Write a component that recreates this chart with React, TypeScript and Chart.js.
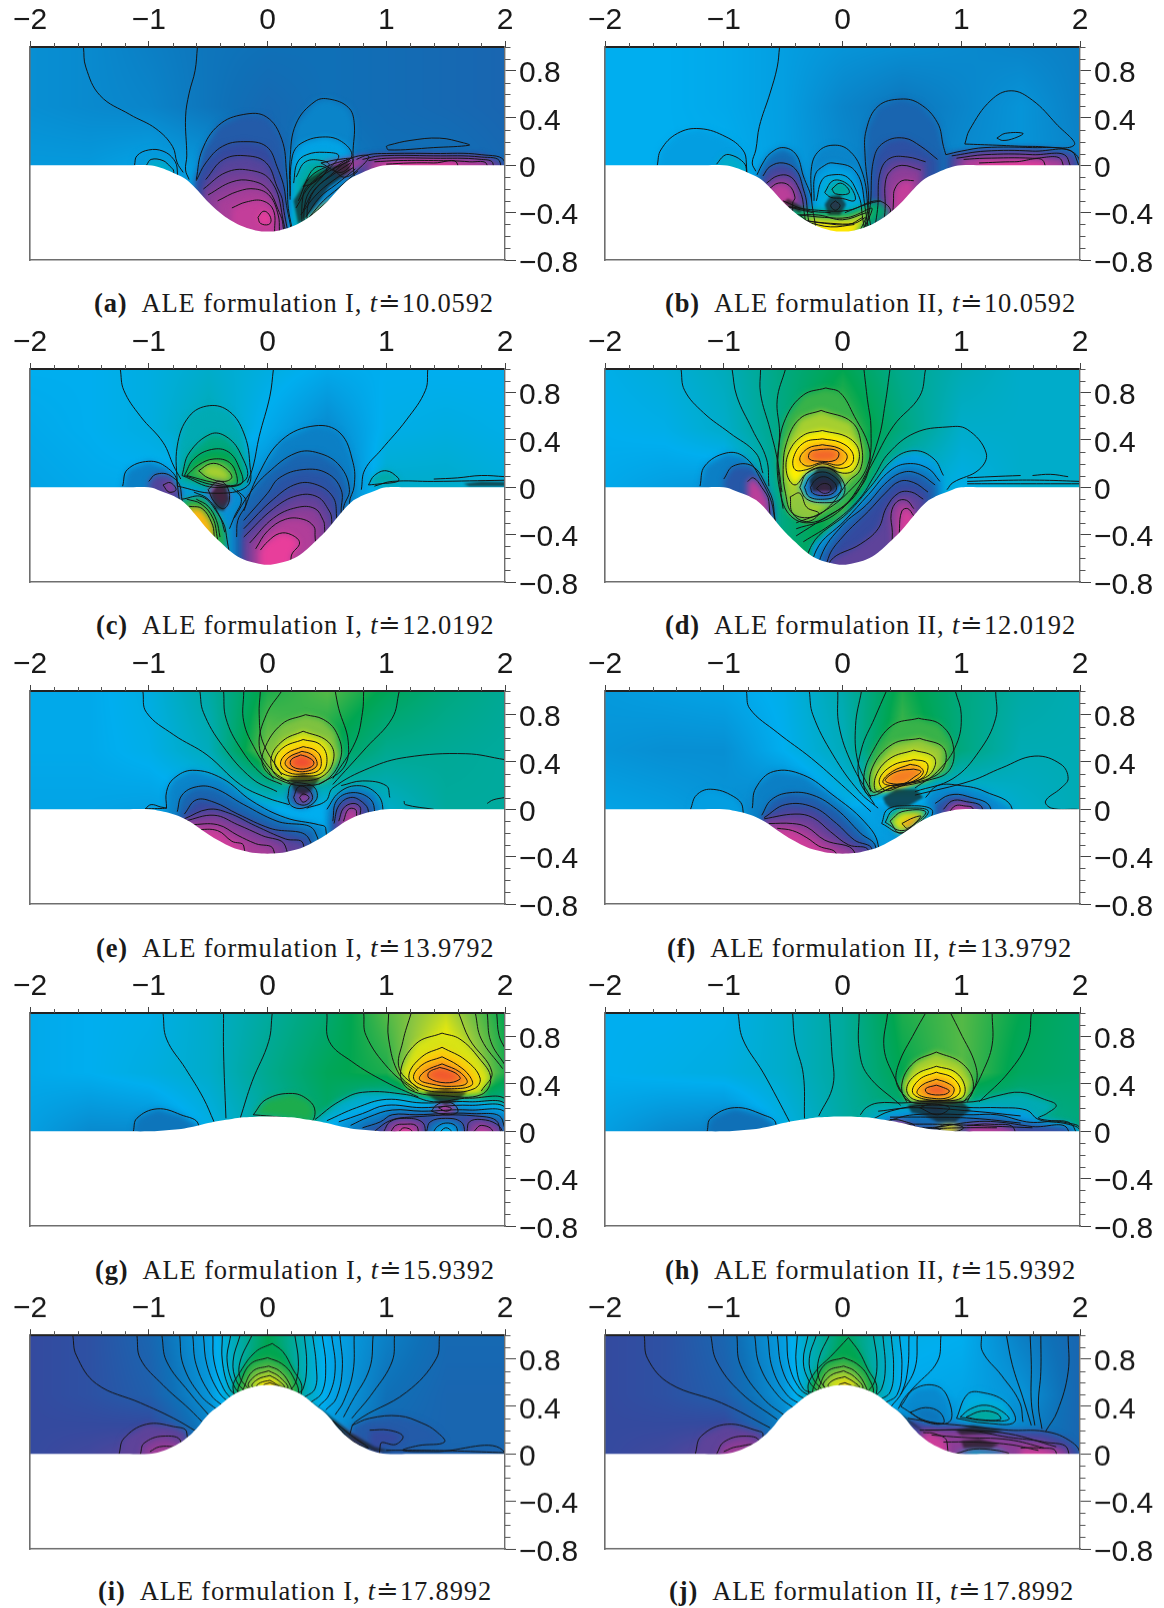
import React, { useEffect, useRef } from "react";
import { Chart, registerables } from "chart.js";
Chart.register(...registerables);

const xMajorTicks = [-2, -1, 0, 1, 2];
const xMinorTicks = [-1.8, -1.6, -1.4, -1.2, -0.8, -0.6, -0.4, -0.2, 0.2, 0.4, 0.6, 0.8, 1.2, 1.4, 1.6, 1.8];
const yMajorTicks = [-0.8, -0.4, 0, 0.4, 0.8];
const yMinorTicks = [-0.7, -0.6, -0.5, -0.3, -0.2, -0.1, 0.1, 0.2, 0.3, 0.5, 0.6, 0.7, 0.9, 1];

const levelStops = [0, 0.12, 0.22, 0.33, 0.45, 0.55, 0.66, 0.76, 0.85, 0.93, 1];
const levelColors = [[232, 62, 155], [123, 63, 152], [52, 74, 159], [15, 112, 183], [0, 174, 239], [0, 170, 165], [0, 166, 81], [141, 198, 63], [255, 242, 0], [247, 148, 29], [239, 65, 54]];

const fieldX = [-2, -1.5, -1, -0.5, 0, 0.5, 1, 1.5, 2];
const fieldY = [1, 0.5, 0];
const terrainX = [-2, -1.2, -1, -0.9, -0.8, -0.7, -0.6, -0.5, -0.4, -0.3, -0.2, -0.1, 0, 0.1, 0.2, 0.3, 0.4, 0.5, 0.6, 0.7, 0.8, 0.9, 1, 1.2, 2];
const terrainA = [0, 0, 0, -0.02, -0.06, -0.11, -0.2, -0.31, -0.4, -0.47, -0.52, -0.55, -0.56, -0.55, -0.52, -0.47, -0.4, -0.31, -0.2, -0.11, -0.06, -0.02, 0, 0, 0];
const terrainC = [0, 0, 0, -0.03, -0.07, -0.13, -0.24, -0.36, -0.46, -0.55, -0.61, -0.64, -0.655, -0.64, -0.61, -0.55, -0.46, -0.36, -0.24, -0.13, -0.07, -0.03, 0, 0, 0];
const terrainE = [0, 0, 0, -0.015, -0.04, -0.08, -0.14, -0.21, -0.27, -0.32, -0.35, -0.37, -0.375, -0.37, -0.35, -0.32, -0.27, -0.21, -0.14, -0.08, -0.04, -0.015, 0, 0, 0];
const terrainG = [0, 0, 0, 0.005, 0.013, 0.025, 0.045, 0.07, 0.09, 0.105, 0.118, 0.124, 0.126, 0.124, 0.118, 0.105, 0.09, 0.07, 0.045, 0.025, 0.013, 0.005, 0, 0, 0];
const terrainI = [0, 0, 0, 0.02, 0.06, 0.12, 0.21, 0.33, 0.41, 0.49, 0.54, 0.57, 0.58, 0.57, 0.54, 0.49, 0.41, 0.33, 0.21, 0.12, 0.06, 0.02, 0, 0, 0];

const fieldA = [[.39,.38,.36,.34,.33,.33,.32,.31,.30],[.39,.38,.37,.34,.31,.33,.32,.31,.30],[.41,.41,.43,.4,.3,.36,.33,.33,.31]];
const fieldB = [[.45,.45,.44,.42,.40,.39,.38,.37,.36],[.45,.45,.44,.42,.37,.34,.37,.4,.36],[.45,.45,.45,.42,.38,.34,.38,.4,.37]];
const fieldC = [[.45,.45,.47,.5,.47,.44,.45,.45,.45],[.44,.45,.47,.53,.44,.38,.46,.47,.46],[.43,.44,.44,.4,.38,.3,.5,.5,.48]];
const fieldD = [[.46,.48,.52,.6,.66,.58,.53,.5,.5],[.45,.46,.5,.6,.72,.6,.5,.5,.5],[.44,.42,.4,.6,.7,.5,.46,.5,.5]];
const fieldE = [[.44,.44,.47,.55,.68,.72,.65,.6,.57],[.44,.44,.46,.52,.75,.66,.58,.57,.56],[.43,.43,.42,.42,.45,.45,.5,.56,.56]];
const fieldF = [[.41,.42,.43,.46,.54,.68,.6,.55,.53],[.4,.39,.39,.45,.52,.72,.6,.53,.53],[.43,.42,.4,.35,.45,.4,.43,.5,.53]];
const fieldG = [[.44,.45,.46,.5,.56,.62,.72,.8,.66],[.44,.45,.47,.5,.58,.65,.68,.9,.68],[.42,.38,.38,.46,.55,.62,.4,.3,.5]];
const fieldH = [[.45,.45,.46,.5,.56,.68,.72,.66,.62],[.45,.46,.47,.5,.56,.66,.72,.64,.62],[.42,.38,.36,.46,.55,.6,.5,.55,.6]];
const fieldI = [[.22,.24,.3,.42,.66,.44,.36,.31,.31],[.22,.24,.28,.4,.66,.44,.33,.3,.3],[.22,.2,.16,.34,.5,.4,.3,.3,.3]];
const fieldJ = [[.22,.24,.3,.42,.64,.46,.45,.36,.3],[.22,.24,.28,.4,.66,.44,.43,.4,.3],[.22,.2,.15,.34,.5,.3,.35,.35,.3]];

const linesA = [[-1.55,1,-1.53,.83,-1.41,.59,-1.16,.43,-.94,.31,-.8,.16,-.76,.02,-.71,-.06],[-.59,1,-.61,.8,-.66,.61,-.69,.41,-.68,.08,-.69,-.04,-.66,-.12],[.3,-.38,.4,-.2,.55,-.08,.7,.02],[.28,-.42,.4,-.26,.55,-.13,.72,-.02],[.24,-.36,.36,-.17,.52,-.05,.7,.04],[.32,-.44,.44,-.27,.58,-.16,.74,-.03],[.35,-.44,.47,-.3,.6,-.19,.76,-.05],[.26,-.3,.35,-.11,.5,-.01,.68,.05]];
const lobesA = [[.41,-1.12,0,-1.1,.08,-1,.13,-.88,.12,-.79,.05,-.76,-.04],[.5,-1.02,0,-.98,.05,-.88,.04,-.82,-.01,-.79,-.05],[.27,-.6,-.12,-.55,.13,-.41,.34,-.2,.43,-.01,.41,.12,.22,.16,-.06,.17,-.29],[.22,-.6,-.13,-.52,.02,-.38,.16,-.2,.2,-.01,.16,.08,-.01,.15,-.26],[.17,-.52,-.12,-.37,.05,-.17,.08,-.01,.02,.08,-.18,.13,-.32],[.13,-.54,-.2,-.35,-.06,-.16,-.04,.02,-.12,.12,-.4],[.1,-.5,-.25,-.3,-.14,-.14,-.13,0,-.2,.1,-.4,.13,-.5],[.07,-.42,-.3,-.25,-.22,-.1,-.2,.02,-.26,.09,-.42,.1,-.55],[.04,-.3,-.36,-.18,-.31,-.04,-.3,.05,-.38,.06,-.56],[.37,.19,-.29,.19,.05,.24,.35,.4,.54,.52,.56,.68,.49,.73,.36,.72,.1],[.43,.19,-.26,.21,.08,.29,.19,.49,.24,.64,.19,.71,.08,.61,-.01,.35,-.3],[.49,.22,-.15,.25,.02,.33,.09,.48,.11,.6,.08,.5,-.05,.32,-.3],[.54,.24,-.1,.32,.03,.46,.04,.52,0,.42,-.1,.3,-.25],[.22,.75,.05,.85,.09,1,.1,1.4,.1,1.8,.09,2,.02],[.16,.8,.05,.95,.08,1.4,.08,1.8,.07,1.96,.02],[.1,.85,.04,1,.06,1.4,.06,1.8,.05,1.9,.01],[.05,.9,.03,1.1,.04,1.4,.04,1.7,.03,1.85,0],[.0,1,.01,1.2,.02,1.4,.02,1.6,.01]];
const loopsA = [[0,-.08,-.44,-.04,-.39,0,-.4,.03,-.46,.01,-.5,-.06,-.49],[.62,.3,-.18,.4,-.02,.5,-.03,.4,-.14],[.1,.45,.02,.6,.05,.72,.05,.62,-.06],[.08,.55,-.03,.7,.06,.85,.08,.8,0,.65,-.1],[.84,.3,-.5,.42,-.38,.55,-.28,.48,-.38,.35,-.5]];
const darkA = [[.22,-.3,.33,-.12,.5,-.02,.68,.03,.7,-.05,.52,-.18,.36,-.4,.26,-.5]];
const closedA = [[1,.16,1.02,.17,1.2,.21,1.45,.23,1.65,.19,1.7,.17,1.4,.15,1.02,.13]];

const linesB = [[-.53,1,-.55,.83,-.61,.61,-.7,.33,-.73,.13,-.76,.02,-.73,-.05],[-.42,-.42,-.2,-.42,0,-.46,.2,-.4],[-.36,-.46,-.15,-.49,.05,-.5,.17,-.44],[-.3,-.48,-.1,-.52,.1,-.5],[-.5,-.3,-.3,-.38,-.1,-.4],[.02,-.4,.2,-.33,.32,-.3],[-.46,-.35,-.25,-.4]];
const lobesB = [[.42,-1.56,0,-1.53,.13,-1.39,.27,-1.2,.31,-.98,.24,-.84,.13,-.81,.02],[.5,-1.06,.01,-1,.08,-.95,.09,-.85,.04,-.81,-.03],[.32,-.72,-.08,-.67,.02,-.61,.1,-.5,.15,-.39,.09,-.33,-.09,-.26,-.3],[.2,-.67,-.09,-.61,-.01,-.5,.02,-.39,-.04,-.33,-.2,-.3,-.34],[.12,-.64,-.15,-.55,-.09,-.45,-.09,-.38,-.17,-.33,-.33],[.05,-.62,-.2,-.54,-.15,-.45,-.17,-.4,-.27,-.42,-.32],[.37,-.26,-.3,-.26,-.01,-.2,.12,-.08,.17,.05,.13,.16,-.04,.21,-.32],[.42,-.24,-.3,-.23,-.08,-.15,0,-.08,.02,.1,-.04,.18,-.28],[.47,-.22,-.3,-.17,-.12,-.08,-.08,.04,-.1,.12,-.22,.16,-.36],[.3,.87,.09,.85,.16,.8,.36,.65,.52,.49,.56,.3,.5,.2,.3,.19,.08,.22,-.26],[.24,.8,.05,.66,.16,.52,.23,.36,.2,.27,.08,.24,-.26],[.17,.7,.03,.55,.07,.4,.06,.32,-.05,.3,-.3],[.1,.66,-.04,.5,0,.4,-.05,.36,-.15,.36,-.33],[.04,.6,-.13,.5,-.13,.44,-.2,.43,-.28],[.25,.87,.09,1,.12,1.2,.15,1.6,.15,1.9,.13,2,.02],[.18,.92,.08,1.2,.12,1.6,.12,1.96,.08],[.12,.96,.06,1.2,.09,1.6,.09,1.9,.05],[.06,1.02,.05,1.2,.06,1.6,.06,1.85,.03],[.0,1.15,.02,1.45,.03,1.7,.02]];
const loopsB = [[.53,-.15,-.23,-.08,-.13,.03,-.15,.1,-.24,.1,-.3,0,-.28,-.1,-.27],[.57,-.09,-.2,-.02,-.15,.05,-.2,.05,-.24,-.06,-.24],[.62,-.45,-.35,-.2,-.38,.05,-.38,.3,-.3,.4,-.4,0,-.7,-.4,-.6],[.78,-.36,-.42,-.15,-.44,.05,-.44,.25,-.37,0,-.7],[.86,-.3,-.47,-.1,-.49,.1,-.49,.2,-.44,0,-.7],[.08,-.06,-.3,-.02,-.34,-.06,-.38,-.1,-.34]];
const darkB = [[-.15,-.33,-.1,-.26,-.02,-.25,.03,-.33,-.02,-.42,-.12,-.42],[-.5,-.32,-.36,-.4,-.33,-.36,-.46,-.28]];
const closedB = [[1.03,.18,1.07,.3,1.25,.55,1.42,.63,1.6,.55,1.8,.35,1.95,.17,1.6,.16,1.3,.17],[1.3,.23,1.37,.27,1.52,.27,1.45,.23,1.35,.21]];

const linesC = [[-1.24,1,-1.21,.82,-1.07,.6,-.88,.38,-.79,.18,-.73,.07],[.05,1,.02,.77,-.07,.43,-.12,.18,-.17,.04],[1.35,1,1.33,.82,1.17,.57,.96,.32,.82,.15,.79,-.02],[.9,.01,1.05,.05,1.4,.05,2,.06],[1.4,.07,1.6,.08,1.8,.1,2,.09],[-.62,-.04,-.5,-.1,-.4,-.25,-.36,-.38],[-.6,-.1,-.5,-.16,-.43,-.28,-.4,-.42],[-.68,-.1,-.56,-.14,-.46,-.26,-.42,-.44],[-.3,.0,-.22,-.1,-.28,-.25,-.32,-.35],[-.26,-.02,-.18,-.12,-.25,-.28,-.26,-.42]];
const lobesC = [[.36,-1.22,.01,-1.18,.15,-1,.22,-.85,.17,-.76,.04],[.18,-1,.05,-.94,.11,-.82,.1,-.73,-.02],[.68,-.72,-.1,-.55,-.08,-.42,-.22,-.35,-.38],[.9,-.66,-.16,-.55,-.18,-.47,-.3,-.45,-.4],[.36,-.2,-.2,-.08,.1,.12,.4,.4,.52,.61,.46,.72,.21,.73,.01,.69,-.13],[.3,-.28,-.26,-.15,-.05,0,.12,.24,.29,.43,.29,.61,.18,.69,-.02,.64,-.18],[.25,-.2,-.28,0,-.05,.1,.08,.3,.15,.5,.12,.62,-.02,.62,-.2],[.2,-.2,-.35,.05,-.1,.25,.03,.42,.02,.55,-.08,.58,-.22],[.15,-.2,-.42,.05,-.18,.25,-.07,.42,-.08,.52,-.2,.54,-.27],[.1,-.15,-.47,.05,-.26,.25,-.17,.4,-.18,.47,-.28,.48,-.33],[.06,-.1,-.52,0,-.37,.15,-.27,.3,-.27,.39,-.33,.4,-.4],[0,-.06,-.53,0,-.46,.1,-.39,.2,-.4,.27,-.47,.2,-.58]];
const loopsC = [[.08,-.88,.02,-.82,.04,-.77,-.02,-.83,-.04],[.53,-.76,.01,-.76,.35,-.66,.6,-.49,.69,-.32,.64,-.2,.46,-.15,.21,-.17,.01,-.45,-.05],[.6,-.72,.1,-.66,.29,-.48,.45,-.35,.43,-.23,.29,-.18,.07,-.45,0],[.66,-.7,.1,-.62,.24,-.47,.32,-.33,.3,-.24,.17,-.22,.03,-.45,.02],[.7,-.68,.1,-.58,.19,-.45,.24,-.32,.21,-.26,.1,-.27,.02,-.45,.04],[.78,-.58,.14,-.48,.2,-.38,.18,-.3,.09,-.36,.05,-.5,.08],[.08,-.5,-.02,-.42,.05,-.35,.02,-.32,-.1,-.37,-.18,-.45,-.12],[.55,.85,.02,.9,.1,1,.14,1.1,.08,1.1,.05,.95,.03]];
const darkC = [[-.48,-.06,-.42,.02,-.35,.01,-.32,-.1,-.37,-.2,-.44,-.18],[1.65,.03,1.8,.05,2,.045,2,.01,1.7,.01]];
const closedC = [];

const linesD = [[-1.36,1,-1.33,.82,-1.17,.63,-.95,.46,-.73,.29,-.67,.12],[-.93,1,-.89,.77,-.76,.49,-.64,.24,-.62,.01],[-.69,1,-.69,.79,-.61,.49,-.55,.24,-.51,-.04],[-.48,1,-.55,.74,-.53,.46,-.55,.15,-.5,-.18],[.18,1,.21,.74,.24,.5,.21,.18,.05,-.04,-.17,-.21,-.39,-.3],[.4,1,.36,.71,.3,.4,.14,.01,-.08,-.24,-.39,-.35],[.7,1,.65,.77,.43,.52,.24,.18,.08,-.1,-.17,-.27,-.39,-.41],[-.33,-.46,-.08,-.3,.14,-.1,.27,.1,.39,.29,.61,.46,.88,.51,1.05,.49,1.21,.29,1.15,.15,.93,.04,.88,-.02],[1.05,.08,1.25,.09,1.5,.1],[1.05,.05,1.4,.06,1.7,.06,2,.05],[1.6,.1,1.75,.11,1.9,.09],[1.05,.03,1.5,.03,2,.03]];
const lobesD = [[.36,-1.2,.01,-1.16,.18,-.98,.29,-.83,.26,-.7,.09,-.58,-.21],[.26,-1,.07,-.92,.18,-.76,.18,-.64,.01,-.58,-.16],[.05,-.8,.05,-.75,.08,-.68,0,-.62,-.12],[.42,.85,.1,.77,.24,.61,.31,.43,.24,.24,.01,.05,-.21,-.26,-.49],[.36,.82,.05,.72,.16,.55,.2,.4,.14,.22,-.06,.02,-.28,-.22,-.53],[.28,.78,.02,.65,.11,.52,.13,.38,.05,.2,-.15,0,-.32,-.18,-.58],[.22,.72,-.04,.6,.04,.48,.05,.36,-.05,.22,-.2,0,-.42,-.12,-.6],[.16,.68,-.1,.58,-.04,.47,-.05,.37,-.17,.3,-.35,.15,-.48,-.1,-.62],[.08,.6,-.18,.54,-.11,.46,-.12,.41,-.22,.42,-.38],[.02,.6,-.24,.55,-.18,.5,-.2,.48,-.35]];
const loopsD = [[.7,-.14,.84,-.33,.78,-.48,.58,-.54,.3,-.53,.05,-.47,-.2,-.3,-.3,-.05,-.2,.15,0,.22,.15,.22,.35,.1,.6,-.02,.8],[.78,-.18,.65,-.36,.58,-.47,.38,-.5,.15,-.48,-.05,-.42,-.22,-.25,-.25,-.1,-.15,.05,.05,.15,.15,.16,.35,.08,.55],[.85,-.17,.48,-.33,.44,-.45,.3,-.47,.12,-.4,.02,-.3,.12,-.15,.17,0,.12,.1,.15,.14,.3,.05,.42],[.88,-.17,.41,-.32,.38,-.41,.26,-.4,.15,-.3,.15,-.17,.2,-.02,.16,.08,.2,.08,.3,-.02,.38],[.92,-.17,.36,-.29,.33,-.36,.24,-.3,.18,-.17,.21,-.02,.19,.04,.26,-.03,.33],[.97,-.19,.32,-.27,.3,-.28,.24,-.18,.22,-.06,.23,-.03,.29,-.08,.32],[.45,-.36,0,-.3,.12,-.17,.17,-.05,.12,.02,0,-.02,-.1,-.15,-.13,-.3,-.1],[.3,-.32,0,-.27,.09,-.17,.13,-.07,.09,-.01,0,-.05,-.07,-.15,-.1,-.28,-.08],[.2,-.27,0,-.23,.06,-.16,.09,-.09,.06,-.05,0,-.08,-.05,-.16,-.07,-.25,-.05],[.1,-.22,-.01,-.17,.03,-.11,.02,-.1,-.03,-.16,-.05],[.76,-.44,-.08,-.42,-.22,-.3,-.29,-.2,-.22,-.3,-.17,-.36,-.05]];
const darkD = [[-.2,.18,-.07,.17,0,.05,-.08,-.03,-.25,-.03,-.28,.06]];
const closedD = [];

const linesE = [[-1.05,1,-1.02,.82,-.79,.63,-.51,.46,-.23,.21,-.01,.1,.18,.04],[-.57,1,-.54,.82,-.38,.54,-.13,.26,.08,.15],[-.37,1,-.35,.77,-.23,.52,-.04,.29,.12,.21],[-.2,1,-.2,.74,-.1,.5,.05,.26],[-.06,1,-.07,.8,-.04,.57,.12,.29],[.12,1,-.01,.8,-.07,.54,.02,.35,.21,.21],[.57,1,.6,.85,.68,.57,.64,.35,.43,.21],[.81,1,.8,.82,.74,.57,.55,.26],[1.11,1,1.05,.77,.83,.52,.55,.21],[2,.42,1.67,.47,1.17,.44,.86,.35,.55,.18,.49,.07,.33,.01],[1.03,.1,1,.2,.8,.24,.62,.2],[1.15,.07,1.16,.04,1.4,0],[1.85,.05,1.9,.08,2,.1]];
const lobesE = [[.36,.5,0,.6,.14,.75,.2,.9,.15,.97,.02],[.27,.55,-.1,.58,.07,.7,.14,.85,.1,.9,0],[.2,.56,-.12,.6,.03,.7,.1,.8,.06,.85,-.02],[.12,.6,-.1,.64,.01,.72,.05,.78,.02,.78,-.05],[.05,.64,-.1,.68,0,.74,0,.75,-.05],[.37,-.85,.01,-.85,.15,-.79,.26,-.63,.33,-.38,.26,-.13,.07,.15,-.07,.43,-.13,.49,-.16],[.3,-.76,-.02,-.72,.12,-.6,.19,-.45,.18,-.2,.04,.08,-.1,.4,-.19],[.22,-.7,-.04,-.6,.08,-.45,.06,-.25,-.04,.02,-.16,.35,-.25],[.16,-.7,-.08,-.5,0,-.33,-.03,-.1,-.14,.15,-.25,.3,-.29],[.11,-.7,-.1,-.45,-.05,-.25,-.13,-.05,-.22,.15,-.31],[.07,-.65,-.13,-.42,-.13,-.25,-.22,-.1,-.29,.05,-.34],[.03,-.6,-.17,-.42,-.18,-.3,-.27,-.2,-.31]];
const loopsE = [[.75,.32,.8,.12,.72,-.03,.5,-.03,.35,.1,.25,.3,.2,.5,.25,.62,.45,.58,.65,.47,.76],[.82,.3,.66,.13,.58,.03,.43,.08,.28,.28,.24,.48,.29,.56,.45,.5,.58],[.87,.3,.59,.13,.52,.06,.4,.13,.3,.3,.28,.46,.31,.5,.44,.44,.55],[.9,.3,.53,.16,.47,.11,.38,.18,.31,.3,.3,.43,.33,.45,.43,.4,.5],[.94,.29,.49,.18,.44,.15,.38,.22,.33,.32,.32,.41,.36,.41,.42,.36,.47],[.99,.28,.46,.2,.42,.2,.37,.28,.34,.37,.36,.39,.4,.34,.44],[.3,.17,.1,.2,.21,.3,.22,.4,.18,.41,.08,.3,.01,.2,.03],[.15,.22,.1,.26,.19,.33,.18,.38,.1,.33,.04,.25,.05],[.06,.27,.1,.3,.13,.35,.1,.3,.06]];
const darkE = [[.18,.26,.3,.3,.44,.26,.36,.15,.3,.12,.23,.15]];
const closedE = [[-1.03,.005,-.98,.04,-.9,.02,-.85,.01]];

const linesF = [[-.81,1,-.78,.85,-.55,.65,-.26,.43,-.01,.21,.24,-.02],[-.28,1,-.25,.8,-.08,.46,.14,.15,.3,.01],[-.04,1,-.03,.71,.08,.38,.24,.1],[.16,1,.11,.71,.13,.4,.24,.15],[.37,1,.27,.77,.16,.51,.14,.26,.27,.04],[.95,1,1,.8,.96,.55,.8,.32,.61,.18],[1.29,1,1.29,.77,1.15,.49,.93,.26,.61,.15],[.61,.12,1.08,.24,1.34,.35,1.62,.45,1.84,.38,1.9,.26,1.84,.18,1.71,.07,1.76,.01,1.98,0]];
const lobesF = [[.42,-1.28,0,-1.23,.12,-1.11,.17,-.92,.11,-.84,.01],[.36,-.76,.01,-.73,.18,-.58,.32,-.33,.29,-.08,.12,.18,-.1,.3,-.3],[.28,-.68,-.05,-.6,.08,-.45,.14,-.25,.12,-.05,0,.15,-.2,.28,-.32],[.2,-.66,-.07,-.48,.04,-.25,.02,-.05,-.12,.1,-.26,.25,-.34],[.14,-.66,-.08,-.4,-.04,-.25,-.07,-.1,-.19,.05,-.3,.22,-.35],[.08,-.62,-.12,-.42,-.12,-.3,-.15,-.15,-.26,.1,-.36],[.03,-.55,-.16,-.42,-.18,-.3,-.24,-.2,-.31,-.05,-.38],[.38,.7,.1,.8,.2,1,.2,1.2,.15,1.43,0],[.25,.78,.05,.9,.12,1.05,.11,1.25,0],[.15,.85,0,.92,.07,1.02,.07,1.18,0],[.03,.9,-.02,.95,.03,1.02,.03,1.1,0]];
const loopsF = [[.7,.64,.77,.42,.71,.26,.5,.18,.28,.22,.12,.42,.18,.7,.24,.9,.33,.93,.55,.82,.72],[.77,.65,.6,.42,.55,.25,.35,.25,.15,.4,.2,.7,.25,.85,.35,.85,.52],[.83,.6,.5,.4,.43,.28,.28,.29,.15,.45,.2,.7,.27,.78,.37,.76,.45],[.87,.6,.42,.42,.37,.31,.25,.36,.16,.5,.2,.68,.27,.72,.35,.7,.4],[.92,.57,.38,.42,.32,.34,.23,.44,.2,.6,.24,.68,.31,.65,.36],[.95,.6,.34,.46,.32,.36,.25,.4,.22,.52,.22,.6,.27,.66,.32],[.45,.33,-.12,.38,0,.55,.03,.75,0,.72,-.1,.5,-.2],[.6,.36,-.11,.42,-.01,.55,.01,.72,-.01,.66,-.1,.5,-.18],[.82,.4,-.1,.5,-.02,.7,-.02,.6,-.13,.48,-.2],[.94,.5,-.12,.6,-.07,.66,-.06,.55,-.16]];
const darkF = [[.34,.1,.45,.17,.62,.17,.68,.1,.56,.03,.4,.01,.36,.05]];
const closedF = [];

const linesG = [[-.88,1,-.85,.78,-.69,.53,-.54,.28,-.45,.08],[-.37,1,-.37,.67,-.35,.11],[.04,1,.01,.76,-.13,.42,-.23,.11],[.5,1,.52,.76,.71,.59,.99,.42,1.27,.29],[.81,1,.83,.81,1.02,.53,1.24,.34],[1.02,1,1.02,.78,1.11,.48,1.27,.34],[1.21,1,1.14,.76,1.11,.53,1.27,.36],[1.61,1,1.7,.78,1.89,.5,1.8,.34],[1.75,1,1.8,.78,1.98,.53],[1.85,1,1.88,.76,2,.56],[1.93,1,1.95,.81,2,.7]];
const lobesG = [[.34,-1.13,0,-1.1,.11,-.93,.19,-.73,.14,-.58,.05],[.5,.4,.1,.6,.25,.8,.33,1.17,.31,1.4,.25,1.7,.28,2.02,.24],[.45,.5,.09,.75,.2,1,.27,1.3,.24,1.7,.25,2.02,.2],[.4,.6,.08,.8,.15,1,.22,1.3,.2,1.7,.22,2.02,.17],[.35,.7,.05,.85,.12,1.05,.18,1.3,.17,1.7,.18,2.02,.13],[.27,.8,.03,.95,.08,1.05,.14,1.25,.14,1.72,.15,1.98,.09],[.2,.9,0,1.03,.09,1.2,.12,1.75,.13,1.95,.05],[.12,.98,0,1.03,.08,1.15,.11,1.3,.08,1.33,-.02],[.06,1.04,0,1.08,.05,1.15,.06,1.25,.05,1.27,-.02],[0,1.1,-.01,1.15,.03,1.22,-.01],[.33,1.34,0,1.37,.08,1.5,.11,1.63,.08,1.66,-.01],[.42,1.4,0,1.43,.04,1.5,.07,1.58,.05,1.6,-.01],[.47,1.44,-.02,1.5,.03,1.55,-.01],[.12,1.68,0,1.7,.08,1.8,.1,1.93,.06,1.98,-.02],[.05,1.73,-.01,1.8,.05,1.9,-.01]];
const loopsG = [[.82,1.47,.83,1.25,.74,1.12,.5,1.2,.35,1.5,.3,1.8,.31,1.88,.45,1.78,.62,1.62,.78],[.88,1.47,.71,1.3,.63,1.19,.47,1.27,.37,1.5,.33,1.74,.36,1.79,.45,1.67,.6],[.91,1.47,.63,1.3,.56,1.23,.45,1.33,.38,1.55,.36,1.72,.39,1.7,.47,1.6,.56],[.94,1.47,.57,1.33,.51,1.28,.44,1.38,.4,1.55,.38,1.68,.41,1.62,.5],[.98,1.45,.54,1.36,.5,1.36,.45,1.5,.41,1.62,.44,1.6,.48,1.52,.52],[.1,1.38,.17,1.42,.22,1.5,.25,1.58,.22,1.6,.16,1.5,.14],[.02,1.44,.2,1.5,.21,1.55,.19,1.5,.17],[.68,-.12,.14,-.01,.27,.21,.32,.35,.26,.4,.17,.36,.08,.1,.12]];
const darkG = [[1.32,.33,1.5,.36,1.68,.33,1.6,.26,1.5,.22,1.42,.26]];
const closedG = [];

const linesH = [[-.88,1,-.84,.78,-.67,.5,-.55,.28,-.44,.07],[-.42,1,-.4,.76,-.33,.48,-.32,.11],[-.11,1,-.09,.67,-.08,.39,-.2,.13],[.14,1,.14,.7,.21,.48,.49,.22],[.38,1,.35,.7,.44,.45,.54,.25],[.7,1,.61,.84,.47,.56,.46,.39,.57,.25],[.91,1,.99,.84,1.12,.56,1.12,.39,1.02,.25],[1.26,1,1.26,.73,1.18,.5,1.05,.25],[1.59,1,1.56,.76,1.4,.5,1.15,.25],[.3,.17,.6,.2,1.1,.17,1.5,.13],[.4,.12,.7,.12,1.1,.11,1.5,.07],[.5,.06,.8,.06,1.1,.05,1.6,.03],[.7,.02,1,.03,1.3,.03]];
const lobesH = [[.33,-1.14,0,-1.11,.11,-.91,.2,-.67,.14,-.56,.06],[.53,.15,.14,.2,.2,.3,.24,.5,.24,.7,.25,1.1,.25,1.3,.3,1.5,.33,1.7,.27,1.8,.22,1.72,.15,1.65,.11,1.9,.07,2,.02],[.42,.25,.1,.4,.17,.7,.22,1.1,.2,1.3,.2,1.55,.18,1.65,.1,1.9,.06,2,0],[.32,.35,.08,.6,.14,1.1,.14,1.3,.14,1.55,.08,1.95,.03],[.2,.45,.07,.7,.03,1.1,.08,1.3,.08,1.6,.04,1.9,.01],[.08,.4,.1,.5,.09,.62,.02],[.06,1.05,.05,1.25,.06,1.45,.01]];
const loopsH = [[.78,.79,.67,.6,.58,.5,.4,.55,.26,.8,.24,1.05,.27,1.1,.42,1,.58],[.85,.79,.55,.62,.48,.54,.36,.6,.27,.8,.26,1,.28,1.03,.38,.95,.5],[.89,.79,.5,.65,.44,.59,.33,.7,.27,.9,.27,.99,.34,.93,.45],[.93,.79,.44,.67,.39,.63,.32,.75,.28,.9,.29,.94,.36,.88,.41],[.98,.79,.39,.7,.36,.72,.32,.85,.31,.9,.34,.85,.37],[.85,.78,.03,.9,.06,1.02,.03,.9,-.01],[.25,.65,.2,.75,.23,.9,.2,.8,.14]];
const darkH = [[.55,.22,.7,.27,1,.26,1.08,.18,.95,.08,.8,.08,.7,.13,.58,.16]];
const closedH = [];

const linesI = [[-1.64,1,-1.61,.83,-1.44,.59,-1.07,.43,-.79,.3,-.6,.19],[-1.1,1,-1.07,.8,-.88,.58,-.66,.38,-.52,.24],[-.89,1,-.85,.78,-.66,.52,-.48,.31],[-.74,1,-.71,.75,-.57,.5,-.41,.36],[-.63,1,-.6,.75,-.48,.5,-.37,.4],[-.54,1,-.51,.75,-.41,.52,-.32,.43],[-.46,1,-.45,.78,-.37,.55,-.29,.45],[-.38,1,-.38,.78,-.32,.55,-.24,.48],[-.31,1,-.34,.78,-.27,.55,-.21,.51],[-.23,1,-.29,.78,-.26,.61,-.18,.52],[-.13,1,-.23,.78,-.23,.64,-.15,.54],[.23,1,.26,.78,.24,.61,.18,.52],[.31,1,.33,.75,.3,.55,.24,.5],[.38,1,.41,.75,.4,.55,.3,.47],[.46,1,.49,.75,.46,.52,.36,.43],[.54,1,.57,.72,.52,.5,.43,.4],[.61,1,.63,.72,.58,.47,.49,.37],[.73,1,.72,.69,.64,.44,.57,.33],[.89,1,.86,.72,.71,.44,.64,.31],[1.07,1,1.05,.78,.89,.52,.71,.3],[1.45,1,1.42,.8,1.17,.52,.74,.27,.69,.16],[1,.03,1.3,.03,1.6,.025,2,.01]];
const lobesI = [[.16,-1.25,0,-1.21,.13,-1.02,.25,-.79,.23,-.68,.18],[.11,-1.07,0,-1.04,.09,-.88,.15,-.73,.1],[.07,-.99,.02,-.91,.06,-.79,.06,-.7,.04],[.27,.71,.24,.86,.3,1.11,.32,1.3,.26,1.42,.19,1.49,.1,1.27,.07,1.14,.03,1.4,.02,2,.01],[.22,.86,.2,1.02,.2,1.14,.15,1.08,.08,.95,.08]];
const loopsI = [[.66,.04,.93,-.1,.86,-.23,.69,-.29,.55,-.2,.4,.2,.4,.29,.55,.21,.72,.13,.86],[.7,0,.81,-.14,.76,-.22,.62,-.24,.5,0,.4,.25,.5,.21,.66,.12,.76],[.74,.01,.74,-.12,.7,-.19,.58,-.2,.5,0,.45,.2,.5,.18,.6,.1,.7],[.77,.01,.7,-.1,.66,-.16,.57,0,.5,.17,.55,.1,.65],[.8,.02,.66,-.08,.63,-.13,.57,0,.52,.14,.56,.09,.62],[.85,.02,.62,-.06,.6,-.09,.57,.02,.54,.1,.56,.07,.59],[.9,.02,.6,-.03,.58,.03,.55,.08,.57],[.08,.55,.28,.7,.16,.85,.05,.7,.12]];
const darkI = [[.08,.59,.3,.48,.5,.34,.7,.18,.9,.06,1.05,.02,.9,.02,.7,.12,.5,.29,.3,.44,.08,.56]];
const closedI = [];

const linesJ = [[-1.67,1,-1.64,.8,-1.45,.59,-1.02,.43,-.61,.22],[-1.11,1,-1.06,.78,-.86,.52,-.55,.29],[-.89,1,-.86,.75,-.67,.47,-.47,.31],[-.74,1,-.7,.75,-.55,.5,-.39,.37],[-.63,1,-.59,.72,-.47,.5,-.34,.41],[-.55,1,-.51,.72,-.4,.52,-.29,.45],[-.47,1,-.45,.75,-.36,.55,-.26,.48],[-.38,1,-.39,.75,-.33,.55,-.23,.51],[-.29,1,-.33,.78,-.28,.61,-.2,.52],[-.22,1,-.28,.8,-.25,.64,-.17,.54],[-.11,1,-.2,.8,-.2,.64,-.14,.55],[.26,1,.29,.78,.27,.61,.21,.52],[.34,1,.36,.72,.33,.55,.27,.48],[.41,1,.43,.72,.4,.52,.3,.45],[.48,1,.5,.72,.46,.5,.36,.43],[.56,1,.55,.72,.5,.52,.41,.4],[.63,1,.61,.72,.49,.5],[.83,1,.8,.78,.61,.57,.52,.47,.47,.38],[1.17,1,1.18,.86,1.34,.66,1.49,.44,1.52,.27],[1.38,1,1.43,.75,1.52,.47,1.59,.24],[1.58,1,1.59,.75,1.59,.44,1.62,.24],[1.67,1,1.67,.69,1.65,.41,1.68,.21],[1.9,1,1.9,.69,1.81,.36,1.71,.19],[.7,.2,1,.2,1.4,.17,1.8,.06],[.75,.16,1,.14,1.4,.12,1.7,.05],[.85,.1,1.1,.1,1.4,.08,1.65,.03]];
const lobesJ = [[.16,-1.24,0,-1.19,.15,-.97,.25,-.7,.19,-.67,.17],[.11,-1.06,0,-1,.1,-.83,.15,-.7,.1],[.07,-1,.02,-.89,.06,-.73,.05],[.2,.55,.3,.8,.26,1,.24,1.4,.2,1.7,.19,1.9,.12,2,0],[.1,.65,.2,.8,.2,1.05,.2,1.4,.14,1.7,.1,1.9,.03],[.03,1.5,.05,1.65,.05,1.8,.01],[.03,.68,.18,.78,.17,.88,.1]];
const loopsJ = [[.66,.05,.98,-.1,.82,-.23,.69,-.29,.55,-.2,.4,.2,.4,.29,.55,.21,.72,.14,.86],[.7,.01,.81,-.14,.76,-.22,.62,-.24,.5,0,.4,.25,.5,.21,.66,.12,.76],[.74,.01,.74,-.12,.7,-.19,.58,-.2,.5,0,.45,.2,.5,.18,.6,.1,.7],[.77,.01,.7,-.1,.66,-.16,.57,0,.5,.17,.55,.1,.65],[.82,.02,.65,-.08,.62,-.12,.57,0,.52,.14,.56,.09,.61],[.9,.02,.6,-.03,.58,.03,.55,.08,.57],[.38,.49,.4,.61,.55,.8,.57,.9,.44,.9,.27,.7,.28],[.34,.57,.35,.7,.39,.82,.35,.85,.26,.7,.27],[.47,.96,.3,1.05,.5,1.16,.52,1.37,.44,1.45,.27,1.2,.26],[.52,.99,.31,1.08,.38,1.21,.41,1.34,.36,1.4,.29,1.2,.28],[.57,1.04,.31,1.17,.36,1.3,.34,1.33,.29,1.15,.29],[.5,.95,0,1.1,.04,1.3,.03,1.4,0,1.1,-.02]];
const darkJ = [[.1,.58,.3,.47,.5,.33,.7,.18,.66,.2,.5,.3,.3,.45,.1,.56],[.95,.2,1.1,.24,1.35,.2,1.25,.17,1,.16],[1,.11,1.15,.13,1.32,.08,1.25,.05,1.02,.05]];
const closedJ = [];

const panelLetters = ["a", "b", "c", "d", "e", "f", "g", "h", "i", "j"];
const panelTimes = ["10.0592", "10.0592", "12.0192", "12.0192", "13.9792", "13.9792", "15.9392", "15.9392", "17.8992", "17.8992"];
const panelForms = ["I", "II", "I", "II", "I", "II", "I", "II", "I", "II"];
const panelTerrains = [terrainA, terrainA, terrainC, terrainC, terrainE, terrainE, terrainG, terrainG, terrainI, terrainI];
const panelFields = [fieldA, fieldB, fieldC, fieldD, fieldE, fieldF, fieldG, fieldH, fieldI, fieldJ];
const panelLines = [linesA, linesB, linesC, linesD, linesE, linesF, linesG, linesH, linesI, linesJ];
const panelLobes = [lobesA, lobesB, lobesC, lobesD, lobesE, lobesF, lobesG, lobesH, lobesI, lobesJ];
const panelLoops = [loopsA, loopsB, loopsC, loopsD, loopsE, loopsF, loopsG, loopsH, loopsI, loopsJ];
const panelDark = [darkA, darkB, darkC, darkD, darkE, darkF, darkG, darkH, darkI, darkJ];
const panelClosed = [closedA, closedB, closedC, closedD, closedE, closedF, closedG, closedH, closedI, closedJ];

// page layout, in pixels
const rowTops = [46.7, 368.7, 690.7, 1012.5, 1335];
const plotHeight = 213.8;
const colLeft = [0, 582];
const colPlotLeft = [30, 23];
const colRightWidth = [77, 84];
const capCenters = [303, 625, 948, 1270, 1591];
const capLefts = [94, 665, 96, 665, 96, 667, 95, 665, 98, 669];

const hideBelow = -0.79;
const pairs = (a: number[], from = 0) => {
  const out: { x: number; y: number }[] = [];
  for (let i = from; i + 1 < a.length; i += 2) out.push({ x: a[i], y: a[i + 1] });
  return out;
};
const lobePts = (c: number[]) => {
  const p = pairs(c, 1);
  return [...p, { x: p[p.length - 1].x, y: hideBelow }, { x: p[0].x, y: hideBelow }];
};
const loopPts = (p: { x: number; y: number }[]) => [...p, p[0]];

function levelRGB(z: number) {
  let i = 0;
  while (i < levelStops.length - 2 && z > levelStops[i + 1]) i++;
  const t = Math.max(0, Math.min(1, (z - levelStops[i]) / (levelStops[i + 1] - levelStops[i])));
  return levelColors[i].map((c, k) => c + (levelColors[i + 1][k] - c) * t);
}
const css = (z: number) => {
  const c = levelRGB(z);
  return `rgb(${c[0] | 0},${c[1] | 0},${c[2] | 0})`;
};

const fieldPlugin = {
  id: "contourField",
  beforeDatasetsDraw(chart: any, _a: any, o: any) {
    const { ctx, chartArea: A, scales } = chart;
    const w = Math.round(A.right - A.left), h = Math.round(A.bottom - A.top);
    const img = ctx.createImageData(w, h);
    for (let py = 0; py < h; py++) {
      const vy = scales.y.getValueForPixel(A.top + py);
      const fy = vy >= 0.5 ? (1 - vy) / 0.5 : Math.min(1, (0.5 - vy) / 0.5);
      const r = vy >= 0.5 ? 0 : 1;
      for (let px = 0; px < w; px++) {
        const vx = scales.x.getValueForPixel(A.left + px);
        const cf = Math.max(0, Math.min(7.9999, (vx - fieldX[0]) / 0.5));
        const c = Math.floor(cf), t = cf - c;
        const a = o.field[r][c] * (1 - t) + o.field[r][c + 1] * t;
        const b = o.field[r + 1][c] * (1 - t) + o.field[r + 1][c + 1] * t;
        const rgb = levelRGB(a * (1 - fy) + b * fy);
        const k = (py * w + px) * 4;
        img.data[k] = rgb[0]; img.data[k + 1] = rgb[1]; img.data[k + 2] = rgb[2]; img.data[k + 3] = 255;
      }
    }
    ctx.putImageData(img, Math.round(A.left), Math.round(A.top));
    ctx.save();
    ctx.beginPath();
    ctx.rect(A.left, A.top, A.right - A.left, A.bottom - A.top);
    ctx.clip();
    const poly = (pts: { x: number; y: number }[]) => {
      ctx.beginPath();
      pts.forEach((p, i) => {
        const X = scales.x.getPixelForValue(p.x), Y = scales.y.getPixelForValue(p.y);
        if (i) ctx.lineTo(X, Y); else ctx.moveTo(X, Y);
      });
      ctx.closePath();
    };
    ctx.filter = "blur(3.4px)";
    o.lobes.forEach((c: number[]) => { ctx.fillStyle = css(c[0]); poly(lobePts(c)); ctx.fill(); });
    o.loops.forEach((c: number[]) => { ctx.fillStyle = css(c[0]); poly(pairs(c, 1)); ctx.fill(); });
    ctx.filter = "blur(1.2px)";
    ctx.fillStyle = "rgba(22,24,18,0.66)";
    o.dark.forEach((c: number[]) => { poly(pairs(c)); ctx.fill(); });
    ctx.restore();
  },
  afterDraw(chart: any) {
    const { ctx, chartArea: A, scales } = chart;
    ctx.save();
    ctx.strokeStyle = "#555";
    ctx.lineWidth = 1;
    xMinorTicks.forEach((v) => {
      const X = Math.round(scales.x.getPixelForValue(v)) + 0.5;
      ctx.beginPath(); ctx.moveTo(X, A.top); ctx.lineTo(X, A.top - 4); ctx.stroke();
    });
    yMinorTicks.forEach((v) => {
      const Y = Math.round(scales.y.getPixelForValue(v)) + 0.5;
      ctx.beginPath(); ctx.moveTo(A.right, Y); ctx.lineTo(A.right + 5.5, Y); ctx.stroke();
    });
    ctx.restore();
  },
};

const labelFont = { family: "'Liberation Sans', sans-serif", size: 30 };
const yLabelFont = { family: "'Liberation Sans', sans-serif", size: 30, lineHeight: 0.22 };
const fmt = (v: number) => (v < 0 ? "\u2212" : "") + String(Math.abs(v));

function Panel({ index }: { index: number }) {
  const ref = useRef<HTMLCanvasElement>(null);
  const col = index % 2, row = (index - col) / 2;
  const topPad = 46;
  const bottomPad = 26;
  useEffect(() => {
    const line = (data: any[], width = 1) => ({ type: "line", data, borderColor: "#151515", borderWidth: width, pointRadius: 0, tension: 0.4, fill: false });
    const datasets: any[] = [
      { type: "line", data: terrainX.map((x, i) => ({ x, y: panelTerrains[index][i] })), borderWidth: 0, borderColor: "#fff", backgroundColor: "#fff", pointRadius: 0, tension: 0.4, fill: { value: -0.8 } },
      ...panelLines[index].map((c) => line(pairs(c))),
      ...panelClosed[index].map((c) => line(loopPts(pairs(c)))),
      ...panelLobes[index].map((c) => line(lobePts(c))),
      ...panelLoops[index].map((c) => line(loopPts(pairs(c, 1)))),
    ];
    const chart = new Chart(ref.current as any, {
      type: "line",
      data: { datasets },
      plugins: [fieldPlugin as any],
      options: {
        animation: false,
        responsive: false,
        events: [],
        layout: { padding: { left: colPlotLeft[col], bottom: bottomPad, top: 0, right: 0 } },
        elements: { line: { capBezierPoints: false } },
        plugins: {
          legend: { display: false },
          tooltip: { enabled: false },
          contourField: { field: panelFields[index], lobes: panelLobes[index], loops: panelLoops[index], dark: panelDark[index] },
        } as any,
        scales: {
          x: {
            type: "linear", position: "top", min: -2, max: 2,
            afterBuildTicks: (s: any) => { s.ticks = xMajorTicks.map((value) => ({ value })); },
            afterFit: (s: any) => { s.height = topPad; },
            grid: { drawOnChartArea: false, tickLength: 6, tickColor: "#444", tickWidth: 1, z: 1 },
            border: { color: "#222", width: 2, z: 1 },
            ticks: { autoSkip: false, maxRotation: 0, minRotation: 0, padding: 2, color: "#1a1a1a", font: labelFont, callback: (v: any) => fmt(v), z: 1 },
          },
          x2: {
            type: "linear", position: "bottom", min: -2, max: 2, axis: "x",
            afterFit: (s: any) => { s.height = 0; },
            grid: { display: false }, ticks: { display: false },
            border: { color: "#6e6e6e", width: 1.6, z: 1 },
          },
          y: {
            type: "linear", position: "right", min: -0.8, max: 1,
            afterBuildTicks: (s: any) => { s.ticks = yMajorTicks.map((value) => ({ value })); },
            afterFit: (s: any) => { s.width = colRightWidth[col]; },
            grid: { drawOnChartArea: false, tickLength: 11, tickColor: "#444", tickWidth: 1, z: 1 },
            border: { color: "#6e6e6e", width: 1.4, z: 1 },
            ticks: { autoSkip: false, padding: 3, color: "#1a1a1a", font: yLabelFont, callback: (v: any) => ["", fmt(Math.round(v * 10) / 10)], z: 1 },
          },
          y2: {
            type: "linear", position: "left", min: -0.8, max: 1, axis: "y",
            afterFit: (s: any) => { s.width = 0; },
            grid: { display: false }, ticks: { display: false },
            border: { color: "#6e6e6e", width: 1.6, z: 1 },
          },
        } as any,
      },
    } as any);
    return () => chart.destroy();
  }, [index, col]);
  return (
    <canvas
      ref={ref}
      width={582}
      height={topPad + plotHeight + bottomPad}
      style={{ position: "absolute", left: colLeft[col], top: rowTops[row] - topPad, width: 582, height: topPad + plotHeight + bottomPad }}
    />
  );
}

function Caption({ index }: { index: number }) {
  const row = Math.floor(index / 2);
  return (
    <div
      style={{
        position: "absolute", left: capLefts[index], top: capCenters[row] - 16, height: 32, lineHeight: "32px",
        fontFamily: "'Liberation Serif', serif", fontSize: 26.5, letterSpacing: 0.85, whiteSpace: "nowrap", color: "#1a1a1a",
      }}
    >
      <b>({panelLetters[index]})</b>{"\u2002"}ALE formulation {panelForms[index]}, <i>t</i>{"\u2250"}{panelTimes[index]}
    </div>
  );
}

export default function App() {
  return (
    <div style={{ position: "absolute", left: 0, top: 0, width: 1164, height: 1608, background: "#fff", overflow: "hidden" }}>
      {panelLetters.map((_, i) => <Panel key={i} index={i} />)}
      {panelLetters.map((_, i) => <Caption key={"c" + i} index={i} />)}
    </div>
  );
}
